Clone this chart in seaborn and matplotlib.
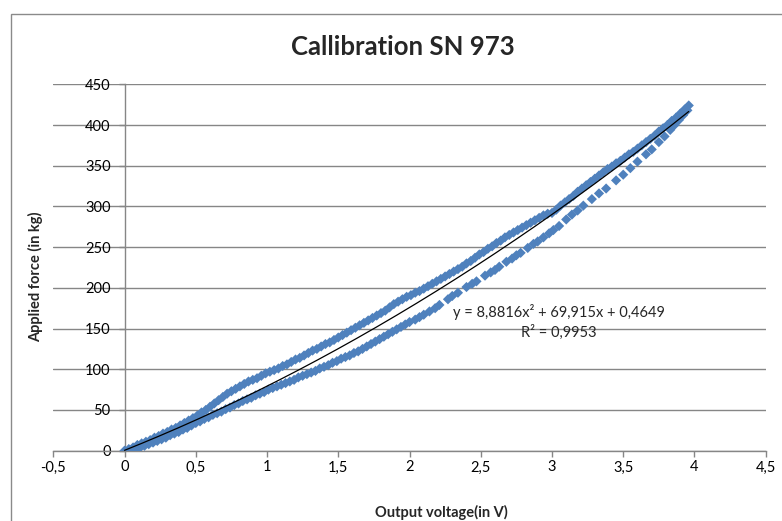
import matplotlib
matplotlib.use("Agg")
import matplotlib.pyplot as plt
import seaborn as sns
import pandas as pd
import numpy as np
from matplotlib.patches import Rectangle
from matplotlib.ticker import FuncFormatter

# Loading branch (force rising)
load_voltage = [0.00, 0.03, 0.06, 0.09, 0.12, 0.15, 0.18, 0.21, 0.24, 0.27,
                0.30, 0.33, 0.36, 0.39, 0.42, 0.45, 0.48, 0.51, 0.54, 0.57,
                0.60, 0.63, 0.66, 0.69, 0.72, 0.75, 0.78, 0.81, 0.84, 0.87,
                0.90, 0.93, 0.96, 0.99, 1.02, 1.05, 1.08, 1.11, 1.14, 1.17,
                1.20, 1.23, 1.26, 1.29, 1.32, 1.35, 1.38, 1.41, 1.44, 1.47,
                1.50, 1.53, 1.56, 1.59, 1.62, 1.65, 1.68, 1.71, 1.74, 1.77,
                1.80, 1.83, 1.86, 1.89, 1.92, 1.95, 1.98, 2.01, 2.04, 2.07,
                2.10, 2.13, 2.16, 2.19, 2.22, 2.25, 2.28, 2.31, 2.34, 2.37,
                2.40, 2.43, 2.46, 2.49, 2.52, 2.55, 2.58, 2.61, 2.64, 2.67,
                2.70, 2.73, 2.76, 2.79, 2.82, 2.85, 2.88, 2.91, 2.94, 2.97,
                3.00, 3.03, 3.06, 3.09, 3.12, 3.15, 3.18, 3.21, 3.24, 3.27,
                3.30, 3.33, 3.36, 3.39, 3.42, 3.45, 3.48, 3.51, 3.54, 3.57,
                3.60, 3.63, 3.66, 3.69, 3.72, 3.75, 3.78, 3.81, 3.84, 3.87,
                3.90, 3.93, 3.96]
load_force = [0, 2, 4, 7, 9, 11, 13, 16, 18, 21,
              23, 26, 28, 31, 34, 37, 40, 43, 47, 50,
              54, 58, 62, 66, 70, 73, 76, 79, 82, 85,
              87, 89, 92, 95, 97, 99, 101, 104, 106, 109,
              112, 114, 117, 120, 123, 125, 128, 131, 133, 136,
              139, 142, 145, 148, 151, 154, 157, 160, 163, 166,
              169, 172, 176, 180, 183, 186, 189, 191, 194, 196,
              199, 202, 205, 208, 211, 214, 217, 220, 223, 226,
              230, 233, 237, 241, 244, 248, 251, 255, 258, 262,
              265, 268, 271, 274, 277, 280, 283, 286, 289, 291,
              292, 296, 301, 305, 309, 313, 318, 322, 326, 330,
              334, 338, 342, 346, 349, 353, 356, 360, 364, 367,
              371, 375, 379, 383, 387, 392, 396, 400, 405, 409,
              414, 419, 424]

# Unloading branch (force falling)
unload_voltage = [0.05, 0.08, 0.11, 0.14, 0.17, 0.20, 0.23, 0.26, 0.29, 0.32,
                  0.35, 0.38, 0.41, 0.44, 0.47, 0.50, 0.53, 0.56, 0.59, 0.62,
                  0.65, 0.68, 0.71, 0.74, 0.77, 0.80, 0.83, 0.86, 0.89, 0.92,
                  0.95, 0.98, 1.01, 1.04, 1.07, 1.10, 1.13, 1.16, 1.19, 1.22,
                  1.25, 1.28, 1.31, 1.34, 1.37, 1.40, 1.43, 1.46, 1.49, 1.52,
                  1.55, 1.58, 1.61, 1.64, 1.67, 1.70, 1.73, 1.76, 1.79, 1.82,
                  1.85, 1.88, 1.91, 1.94, 1.97, 2.00, 2.04, 2.07, 2.10, 2.14,
                  2.18, 2.21, 2.27, 2.30, 2.34, 2.40, 2.44, 2.47, 2.53, 2.57,
                  2.60, 2.63, 2.68, 2.72, 2.75, 2.78, 2.83, 2.87, 2.90, 2.94,
                  2.98, 3.01, 3.05, 3.10, 3.14, 3.18, 3.22, 3.28, 3.33, 3.38,
                  3.45, 3.50, 3.55, 3.60, 3.66, 3.70, 3.75, 3.79, 3.83, 3.86,
                  3.89, 3.92, 3.95]
unload_force = [0, 2, 4, 6, 8, 10, 12, 14, 16, 19,
                21, 23, 26, 28, 31, 34, 36, 39, 41, 44,
                46, 48, 51, 53, 56, 58, 61, 63, 65, 68,
                70, 72, 75, 77, 79, 81, 83, 85, 87, 90,
                92, 94, 96, 98, 101, 103, 105, 108, 110, 113,
                115, 117, 120, 122, 125, 128, 131, 134, 137, 140,
                143, 146, 149, 152, 155, 158, 161, 164, 167, 171,
                175, 179, 186, 190, 194, 201, 205, 208, 215, 219,
                222, 226, 232, 236, 240, 243, 249, 254, 257, 262,
                267, 271, 276, 284, 290, 295, 301, 309, 316, 322,
                332, 339, 347, 355, 364, 370, 379, 386, 394, 400,
                406, 412, 418]

# Polynomial trendline y = a*x^2 + b*x + c and its R^2
fit_coeffs = [8.8816, 69.915, 0.4649]
r_squared = 0.9953

x_ticks = [-0.5, 0, 0.5, 1, 1.5, 2, 2.5, 3, 3.5, 4, 4.5]
y_ticks = [0, 50, 100, 150, 200, 250, 300, 350, 400, 450]

BLUE = "#4F81BD"
GREY = "#868686"

sns.set_theme(style="white")
plt.rcParams['font.family'] = ['Lato', 'DejaVu Sans']

df = pd.DataFrame({
    "voltage": load_voltage + unload_voltage,
    "force": load_force + unload_force,
    "branch": ["load"] * len(load_voltage) + ["unload"] * len(unload_voltage),
})

W, H = 782, 521
fig = plt.figure(figsize=(W / 100, H / 100), dpi=100)
ax = fig.add_axes([53.3 / W, 1 - 450.7 / H, (765.7 - 53.3) / W, (450.7 - 84.3) / H])

sns.scatterplot(data=df, x="voltage", y="force", hue="branch",
                palette={"load": BLUE, "unload": BLUE}, marker="D", s=27,
                linewidth=0, legend=False, ax=ax, zorder=3)

a, b, c = fit_coeffs
fx = np.linspace(min(df.voltage), max(df.voltage), 200)
fy = a * fx ** 2 + b * fx + c
sns.lineplot(x=fx, y=fy, color="black", linewidth=0.9, ax=ax, zorder=4)

ax.set_xlim(x_ticks[0], x_ticks[-1])
ax.set_ylim(y_ticks[0], y_ticks[-1])
ax.set_xticks(x_ticks)
ax.set_yticks(y_ticks)
fmt = FuncFormatter(lambda v, _: f"{v:g}".replace(".", ","))
ax.xaxis.set_major_formatter(fmt)
ax.yaxis.set_major_formatter(fmt)

ax.spines['left'].set_position(('data', 0))
ax.spines['top'].set_visible(False)
ax.spines['right'].set_visible(False)
for s in ('left', 'bottom'):
    ax.spines[s].set_color(GREY)
    ax.spines[s].set_linewidth(1.0)
ax.yaxis.grid(True, color=GREY, linewidth=1.0)
ax.xaxis.grid(False)
ax.set_axisbelow(True)
ax.tick_params(axis='x', direction='out', length=4, width=1, color=GREY,
               labelsize=10.5, pad=3, labelcolor="black", bottom=True)
ax.tick_params(axis='y', direction='out', length=4, width=1, color=GREY,
               labelsize=10.5, pad=6, labelcolor="black", left=True)
ax.set_xlabel("")
ax.set_ylabel("")

fig.text(403 / W, 1 - 47 / H, "Callibration SN 973", ha="center", va="center",
         fontsize=18.5, fontweight="bold")
fig.text(36 / W, 1 - 277 / H, "Applied force (in kg)", ha="center", va="center",
         rotation=90, fontsize=10.5, fontweight="bold")
fig.text(441 / W, 1 - 512 / H, "Output voltage(in V)", ha="center", va="center",
         fontsize=10.5, fontweight="bold")

def dec(v):
    return f"{v}".replace(".", ",")

fig.text(559 / W, 1 - 312 / H,
         f"y = {dec(a)}x² + {dec(b)}x + {dec(c)}",
         ha="center", va="center", fontsize=10.5)
fig.text(559 / W, 1 - 332 / H, f"R² = {dec(r_squared)}",
         ha="center", va="center", fontsize=10.5)

fig.add_artist(Rectangle((11 / W, -0.2), 2, (1 - 14 / H) + 0.2,
                         transform=fig.transFigure, fill=False,
                         edgecolor="#8a8a8a", linewidth=1.0))

fig.savefig("out.png", dpi=100)
